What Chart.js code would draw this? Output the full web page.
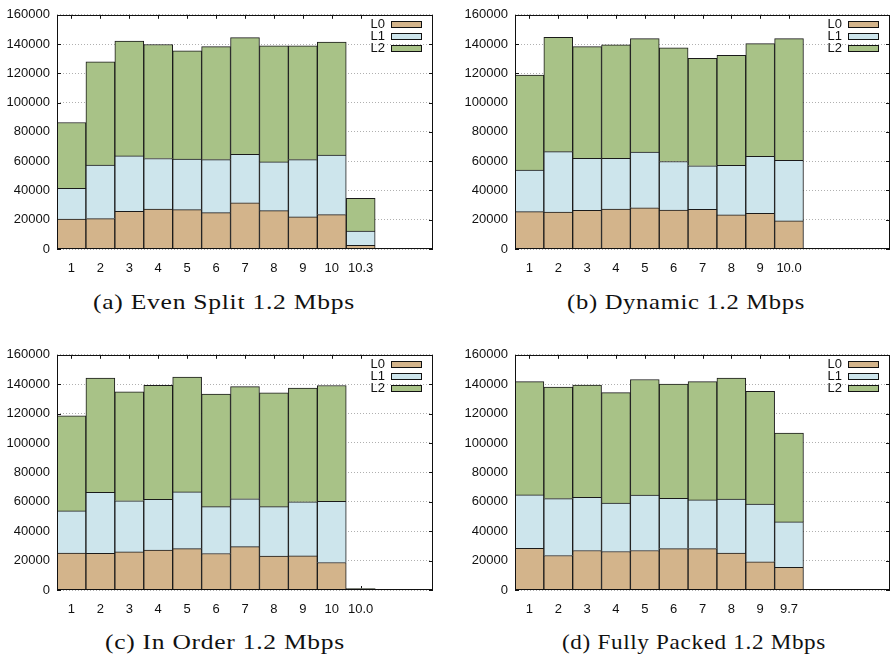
<!DOCTYPE html>
<html lang="en">
<head>
<meta charset="utf-8"/>
<title>Layer sizes per segment</title>
<script src="https://cdn.jsdelivr.net/npm/chart.js"></script>
<style>
body {
  margin: 0;
  background: #ffffff;
  width: 890px;
  height: 656px;
  position: relative;
  overflow: hidden;
}
.panel {
  position: absolute;
  width: 445px;
  height: 280px;
}
.caption {
  position: absolute;
  font-family: 'Liberation Serif', 'DejaVu Serif', serif;
  font-size: 21px;
  line-height: 24px;
  letter-spacing: 0.6px;
  color: #111;
  white-space: nowrap;
}
</style>
</head>
<body>
<div class="panel" style="left:0;top:0"><canvas id="chartA" width="445" height="280"></canvas></div>
<div class="panel" style="left:445px;top:0"><canvas id="chartB" width="445" height="280"></canvas></div>
<div class="panel" style="left:0;top:340px"><canvas id="chartC" width="445" height="280"></canvas></div>
<div class="panel" style="left:445px;top:340px"><canvas id="chartD" width="445" height="280"></canvas></div>
<div class="caption" data-x="93" data-w="262" style="top:290px">(a) Even Split 1.2 Mbps</div>
<div class="caption" data-x="567" data-w="238" style="top:290px">(b) Dynamic 1.2 Mbps</div>
<div class="caption" data-x="105" data-w="240" style="top:630px">(c) In Order 1.2 Mbps</div>
<div class="caption" data-x="562" data-w="264" style="top:630px">(d) Fully Packed 1.2 Mbps</div>
<script>
// layer names and colours
const layerNames = ["L0", "L1", "L2"];
const layerColors = ["#d3b48b", "#cde5ec", "#a8c287"];
const yTicks = [0, 20000, 40000, 60000, 80000, 100000, 120000, 140000, 160000];

// (a) even split
const evenLabels = ["1", "2", "3", "4", "5", "6", "7", "8", "9", "10", "10.3", "", ""];
const evenL0 = [20400, 20800, 25700, 27300, 26900, 24800, 31600, 26200, 21900, 23500, 2500];
const evenL1 = [21000, 36500, 37900, 34500, 34600, 36300, 33100, 33300, 39200, 40700, 9800];
const evenL2 = [45000, 70500, 78500, 77900, 73900, 77200, 79700, 79300, 77700, 77200, 22400];

// (b) dynamic
const dynLabels = ["1", "2", "3", "4", "5", "6", "7", "8", "9", "10.0", "", "", ""];
const dynL0 = [25500, 25300, 26400, 27300, 28200, 26600, 27100, 23300, 24400, 19200];
const dynL1 = [28400, 41200, 35600, 34700, 38000, 33200, 29700, 33800, 38900, 41400];
const dynL2 = [64900, 78100, 76300, 77400, 77500, 77600, 73400, 75200, 77000, 83100];

// (c) in order
const orderLabels = ["1", "2", "3", "4", "5", "6", "7", "8", "9", "10", "10.0", "", ""];
const orderL0 = [25200, 25000, 25900, 27200, 28100, 24800, 29500, 23000, 23200, 18700, 800];
const orderL1 = [28600, 41500, 34800, 34400, 38600, 31900, 32500, 33700, 36800, 41600, 200];
const orderL2 = [64700, 77700, 74100, 77700, 78200, 76500, 76400, 77400, 77300, 78800, 200];

// (d) fully packed
const packedLabels = ["1", "2", "3", "4", "5", "6", "7", "8", "9", "9.7", "", "", ""];
const packedL0 = [28400, 23500, 26900, 26200, 26900, 28200, 28200, 25100, 19200, 15400];
const packedL1 = [36300, 38700, 36200, 32900, 37600, 34200, 33100, 36700, 39200, 30900];
const packedL2 = [77000, 75900, 76300, 75200, 78700, 77700, 80400, 82300, 76800, 60500];

const FONT = "'Liberation Sans', Arial, sans-serif";

// gnuplot-like inward ticks (under the bars), frame and key (on top)
const framePlugin = {
  id: "frame",
  beforeDatasetsDraw(chart) {
    const ctx = chart.ctx;
    const a = chart.chartArea;
    const xs = chart.scales.x;
    const ys = chart.scales.y;
    ctx.save();
    ctx.strokeStyle = "#111";
    ctx.lineWidth = 1;
    ctx.beginPath();
    xs.getLabels().forEach((lab, i) => {
      if (!lab) return;
      const px = Math.round(xs.getPixelForTick(i)) + 0.5;
      ctx.moveTo(px, a.top);
      ctx.lineTo(px, a.top + 4);
      ctx.moveTo(px, a.bottom);
      ctx.lineTo(px, a.bottom - 4);
    });
    yTicks.forEach(v => {
      const py = Math.round(ys.getPixelForValue(v)) + 0.5;
      ctx.moveTo(a.left, py);
      ctx.lineTo(a.left + 4, py);
      ctx.moveTo(a.right, py);
      ctx.lineTo(a.right - 4, py);
    });
    ctx.stroke();
    ctx.restore();
  },
  afterDraw(chart) {
    const ctx = chart.ctx;
    const a = chart.chartArea;
    ctx.save();
    ctx.strokeStyle = "#111";
    ctx.lineWidth = 1;
    ctx.strokeRect(Math.round(a.left) + 0.5, Math.round(a.top) + 0.5,
      Math.round(a.right - a.left) - 1, Math.round(a.bottom - a.top) - 1);

    // key
    ctx.font = "13px " + FONT;
    ctx.textAlign = "right";
    ctx.textBaseline = "middle";
    chart.data.datasets.forEach((ds, i) => {
      const y = Math.round(a.top + 9 + i * 12);
      const sx = Math.round(a.right - 42);
      ctx.fillStyle = "#111";
      ctx.fillText(ds.label, sx - 6, y);
      ctx.fillStyle = ds.backgroundColor;
      ctx.fillRect(sx, y - 3, 31, 7);
      ctx.strokeRect(sx + 0.5, y - 3 + 0.5, 30, 6);
    });
    ctx.restore();
  }
};

function makeChart(id, labels, l0, l1, l2, leftW, rightPad, bottomH) {
  const series = [l0, l1, l2];
  return new Chart(document.getElementById(id), {
    type: "bar",
    data: {
      labels: labels,
      datasets: series.map((d, i) => ({
        label: layerNames[i],
        data: d,
        backgroundColor: layerColors[i],
        borderColor: "#1a1a1a",
        borderWidth: 1,
        categoryPercentage: 1,
        barPercentage: 1
      }))
    },
    options: {
      responsive: false,
      animation: false,
      layout: { padding: { top: 11, right: rightPad, left: 0, bottom: 0 } },
      plugins: {
        legend: { display: false },
        tooltip: { enabled: false }
      },
      scales: {
        x: {
          stacked: true,
          grid: { display: false },
          border: { display: false },
          ticks: { color: "#111", font: { family: FONT, size: 13 }, padding: 4, maxRotation: 0, autoSkip: false },
          afterFit: s => { s.height = bottomH; }
        },
        y: {
          stacked: true,
          min: 0,
          max: 160000,
          afterBuildTicks: s => { s.ticks = yTicks.map(v => ({ value: v })); },
          grid: { color: "#b0b0b0", drawTicks: false, lineWidth: 1 },
          border: { display: false, dash: [1, 2] },
          ticks: { color: "#111", font: { family: FONT, size: 13 }, padding: 7, callback: v => String(v) },
          afterFit: s => { s.width = leftW; }
        }
      }
    },
    plugins: [framePlugin]
  });
}

makeChart("chartA", evenLabels, evenL0, evenL1, evenL2, 57, 12, 31);
makeChart("chartB", dynLabels, dynL0, dynL1, dynL2, 70, 0, 31);
makeChart("chartC", orderLabels, orderL0, orderL1, orderL2, 57, 12, 30);
makeChart("chartD", packedLabels, packedL0, packedL1, packedL2, 70, 0, 30);

// stretch captions to the width of the printed subfigure captions
document.querySelectorAll(".caption").forEach(el => {
  const w = el.getBoundingClientRect().width;
  const target = Number(el.dataset.w);
  el.style.left = el.dataset.x + "px";
  el.style.transformOrigin = "0 0";
  el.style.transform = "scaleX(" + (target / w).toFixed(3) + ")";
});
</script>
</body>
</html>
